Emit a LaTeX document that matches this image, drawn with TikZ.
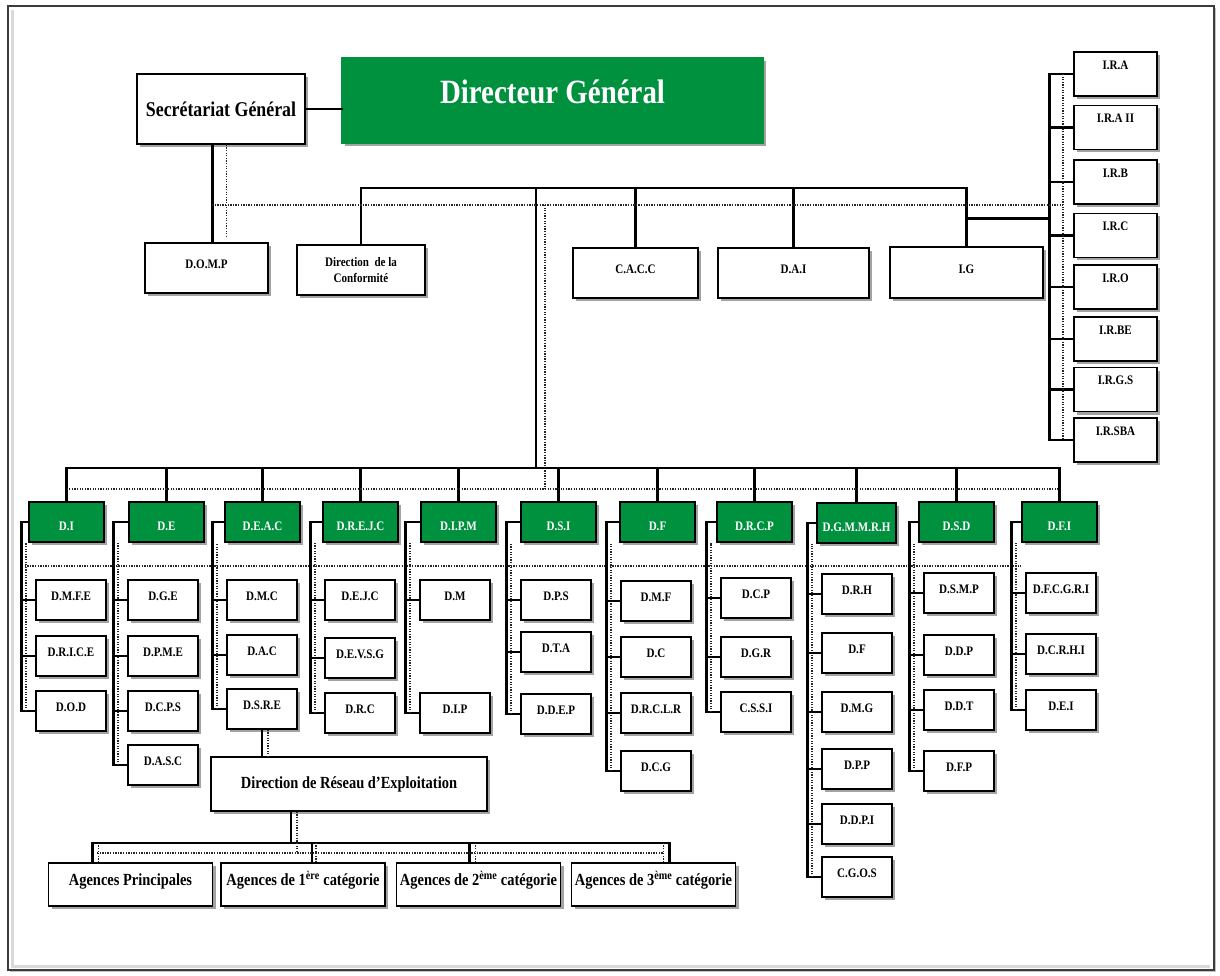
\documentclass[tikz,border=0pt]{standalone}
\usepackage{fontspec}
\setmainfont{Liberation Serif}[FakeStretch=0.85]
\usetikzlibrary{shadows}
\definecolor{dgreen}{HTML}{00913F}
\definecolor{frameline}{HTML}{3C3C3C}
\tikzset{box/.style={draw=black,line width=1.5pt,fill=white,inner sep=0pt,align=center,font=\bfseries\fontsize{13}{16}\selectfont,drop shadow={shadow xshift=3pt,shadow yshift=-3pt,fill=black!65,opacity=.55}},lab/.style={box,text height=9pt,text depth=8pt},dirbox/.style={box,fill=dgreen,text=white,minimum width=75pt,minimum height=40pt,text height=17pt,text depth=0pt},sub/.style={lab,minimum width=70pt,minimum height=40pt},insp/.style={box,minimum width=83pt,minimum height=44pt,text height=9pt,text depth=18.4pt},agbox/.style={box,minimum width=164pt,minimum height=43pt,font=\bfseries\fontsize{17}{19}\selectfont,text height=13pt,text depth=10.8pt},link/.style={line width=2.6pt,line cap=rect},dots/.style={line width=1.8pt,dash pattern=on 1.3pt off 1.3pt,draw=black!85}}

\begin{document}
\begin{tikzpicture}[x=1pt,y=-1pt]
\useasboundingbox (0,0) rectangle (1220,976);
\draw[line width=2.4pt,draw=frameline,fill=white,drop shadow={shadow xshift=2pt,shadow yshift=-2pt,fill=black!40,opacity=.6}] (8,6) rectangle (1214,970);
\draw[line width=3pt,draw=black!15] (12,10) -- (12,966) -- (1210,966);
% top
\node[dirbox,draw=dgreen,minimum width=421pt,minimum height=85pt,font=\bfseries\fontsize{34}{38}\selectfont,text height=24pt,text depth=17.5pt] (dg) at (552.5,100.5) {Directeur Général};
\node[box,minimum width=168pt,minimum height=70pt,font=\bfseries\fontsize{21}{24}\selectfont] (sg) at (221,109) {Secrétariat Général};
\node[lab,minimum width=123pt,minimum height=50pt] (domp) at (206.5,268) {D.O.M.P};
\node[box,minimum width=128pt,minimum height=50pt] (conf) at (361,270) {Direction\ \ de la\\Conformité};
\node[lab,minimum width=125pt,minimum height=50pt] (cacc) at (635.5,273) {C.A.C.C};
\node[lab,minimum width=151pt,minimum height=50pt] (dai) at (793.5,273) {D.A.I};
\node[lab,minimum width=153pt,minimum height=51pt] (ig) at (966.5,272.5) {I.G};
\foreach \t/\y/\n in {I.R.A/74/ira,I.R.A II/127.5/iraii,I.R.B/182/irb,I.R.C/235.5/irc,I.R.O/287/iro,I.R.BE/339/irbe,I.R.G.S/389.5/irgs,I.R.SBA/440/irsba}
  \node[insp] (\n) at (1115.5,\y) {\t};
\coordinate (hub) at (536,188);
\coordinate (low) at (536,468);
\coordinate (dtop) at (212,205);
\coordinate (dmid) at (67,489);
\coordinate (drow) at (22,566);
\draw[link] (sg.east) -- (sg.east -| dg.west);
\draw[link] ([xshift=6]domp.north |- sg.south) -- ([xshift=6]domp.north);
\draw[dots] ([xshift=20]domp.north |- sg.south) -- ([xshift=20,yshift=5]domp.north);
\draw[link] (conf.north) |- (hub) -| (ig.north);
\draw[link] (cacc.north) -- (cacc.north |- hub);
\draw[link] (dai.north) -- (dai.north |- hub);
\draw[link] (hub) -- (low);
\draw[link] (ig.north) ++(0,-28) -- ++(83.5,0);
\draw[link] (ira.west) -- ++(-24,0) |- (irsba.west);
\foreach \n in {iraii,irb,irc,iro,irbe,irgs} \draw[link] (\n.west) -- ++(-24,0);
\draw[dots] (dtop) -- ([xshift=-10]ira.west |- dtop);
\draw[dots] ([xshift=-10]ira.west) -- ([xshift=-10]irsba.west);
\draw[dots] ([xshift=9]hub |- dtop) -- ([xshift=9]hub |- dmid);
% directions
\foreach \t/\x/\n in {D.I/66.5/di,D.E/166.5/de,D.E.A.C/262.5/deac,D.R.E.J.C/360.5/drejc,D.I.P.M/458.5/dipm,D.S.I/558.5/dsi,D.F/657.5/df,D.R.C.P/754.5/drcp,D.S.D/956.5/dsd,D.F.I/1059.5/dfi}
  \node[dirbox] (\n) at (\x,522) {\t};
\node[dirbox,minimum width=79pt] (dgm) at (856.5,523) {D.G.M.M.R.H};
\draw[link] (di.north) |- (low) -| (dfi.north);
\foreach \n in {de,deac,drejc,dipm,dsi,df,drcp,dgm,dsd} \draw[link] (\n.north) -- (\n.north |- low);
\draw[dots] (di.north |- dmid) -- (dfi.north |- dmid);
\draw[dots] (drow) -- (drow -| dfi.west);
% sub-directions
\foreach \t/\y/\n in {D.M.F.E/600/di1,D.R.I.C.E/656/di2,D.O.D/711/di3} \node[sub] (\n) at (71,\y) {\t};
\foreach \t/\y/\n in {D.G.E/600/de1,D.P.M.E/656/de2,D.C.P.S/711/de3,D.A.S.C/765/de4} \node[sub] (\n) at (163,\y) {\t};
\foreach \t/\y/\n in {D.M.C/600/deac1,D.A.C/655/deac2,D.S.R.E/709/deac3} \node[sub] (\n) at (262,\y) {\t};
\foreach \t/\y/\n in {D.E.J.C/600/drejc1,D.E.V.S.G/658/drejc2,D.R.C/713/drejc3} \node[sub] (\n) at (360,\y) {\t};
\foreach \t/\y/\n in {D.M/600/dipm1,D.I.P/713/dipm2} \node[sub] (\n) at (455,\y) {\t};
\foreach \t/\y/\n in {D.P.S/600/dsi1,D.T.A/652/dsi2,D.D.E.P/714/dsi3} \node[sub] (\n) at (556,\y) {\t};
\foreach \t/\y/\n in {D.M.F/601/df1,D.C/657/df2,D.R.C.L.R/713/df3,D.C.G/771/df4} \node[sub] (\n) at (656,\y) {\t};
\foreach \t/\y/\n in {D.C.P/598/drcp1,D.G.R/657/drcp2,C.S.S.I/712/drcp3} \node[sub] (\n) at (756,\y) {\t};
\foreach \t/\y/\n in {D.R.H/594/dgm1,D.F/653/dgm2,D.M.G/712/dgm3,D.P.P/769/dgm4,D.D.P.I/824/dgm5,C.G.O.S/877/dgm6} \node[sub] (\n) at (857,\y) {\t};
\foreach \t/\y/\n in {D.S.M.P/593/dsd1,D.D.P/655/dsd2,D.D.T/710/dsd3,D.F.P/771/dsd4} \node[sub] (\n) at (959,\y) {\t};
\foreach \t/\y/\n in {D.F.C.G.R.I/593/dfi1,D.C.R.H.I/654/dfi2,D.E.I/710/dfi3} \node[sub] (\n) at (1061,\y) {\t};
\foreach \g/\l in {di/di3,de/de4,deac/deac3,drejc/drejc3,dipm/dipm2,dsi/dsi3,df/df4,drcp/drcp3,dgm/dgm6,dsd/dsd4,dfi/dfi3}{
  \draw[link] (\g.west) -| ([xshift=-14]\l.west) -- (\l.west);
  \draw[dots] ([xshift=-9]\l.west) -- ([xshift=-9]\l.west |- \g.south);}
\foreach \n in {di1,di2,de1,de2,de3,deac1,deac2,drejc1,drejc2,dipm1,dsi1,dsi2,df1,df2,df3,drcp1,drcp2,dgm1,dgm2,dgm3,dgm4,dgm5,dsd1,dsd2,dsd3,dfi1,dfi2}
  \draw[link] (\n.west) -- ++(-14,0);
% network
\node[box,minimum width=276pt,minimum height=54pt,font=\bfseries\fontsize{17}{19}\selectfont] (rex) at (349,784) {Direction de Réseau d’Exploitation};
\draw[link] (deac3.south) -- (deac3.south |- rex.north);
\draw[dots] ([xshift=6]deac3.south) -- ([xshift=6]deac3.south |- rex.north);
\node[agbox] (ag1) at (130.5,884.5) {Agences Principales};
\node[agbox] (ag2) at (303,884.5) {Agences de 1\textsuperscript{ère} catégorie};
\node[agbox] (ag3) at (478.5,884.5) {Agences de 2\textsuperscript{ème} catégorie};
\node[agbox] (ag4) at (653.5,884.5) {Agences de 3\textsuperscript{ème} catégorie};
\coordinate (abus) at (291,843);
\coordinate (adot) at (97,853);
\draw[link] (rex.south -| abus) -- (abus);
\draw[link] ([xshift=-38]ag1.north) |- (abus) -| ([xshift=16]ag4.north);
\draw[link] ([xshift=9]ag2.north) -- ([xshift=9]ag2.north |- abus);
\draw[link] ([xshift=-9]ag3.north) -- ([xshift=-9]ag3.north |- abus);
\draw[dots] ([xshift=6]rex.south -| abus) -- ([xshift=6]abus |- adot);
\draw[dots] (adot) -- ([xshift=10]ag4.north |- adot);
\foreach \n/\s in {ag1/-32,ag2/13,ag3/-3,ag4/10} \draw[dots] ([xshift=\s]\n.north) -- ++(0,-20);
\end{tikzpicture}
\end{document}
